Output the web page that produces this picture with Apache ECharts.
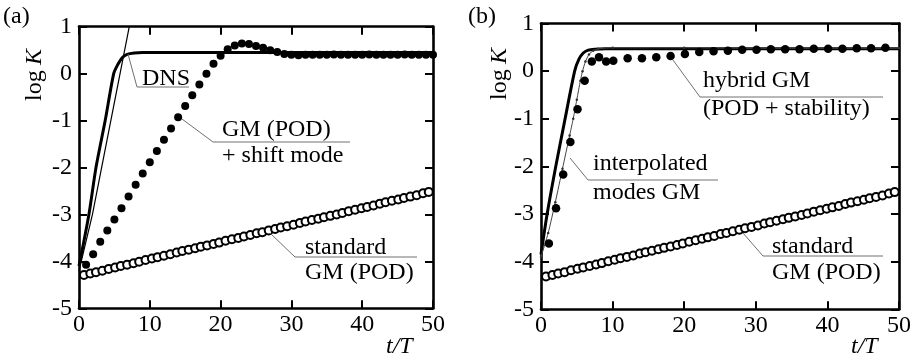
<!DOCTYPE html>
<html><head><meta charset="utf-8">
<script src="https://cdn.jsdelivr.net/npm/echarts/dist/echarts.min.js"></script>
<style>html,body{margin:0;padding:0;background:#fff}#c{width:914px;height:354px}</style>
</head><body><div id="c"></div>
<script>
// ---------- data ----------
const xTicks = [0, 10, 20, 30, 40, 50];
const yTicks = [-5, -4, -3, -2, -1, 0, 1];

// panel (a)
const tDnsA  = [0, 1.4, 2.4, 3.7, 4.9, 5.5, 6.1, 6.8, 7.8, 9, 20, 30, 40, 50];
const kDnsA  = [-4.1, -3.0, -2.0, -1.0, 0.0, 0.2, 0.34, 0.41, 0.44, 0.45, 0.45, 0.45, 0.45, 0.45];
const tLinA  = [0, 1.9, 7.1, 7.3];
const kLinA  = [-4.2, -3.0, 1.0, 1.15];
const tShift = [1,2,3,4,5,6,7,8,9,10,11,12,13,14,15,16,17,18,19,20,21,22,23,24,25,26,27,28,29,30,31,32,33,34,35,36,37,38,39,40,41,42,43,44,45,46,47,48,49,50];
const kShift = [-4.07,-3.85,-3.58,-3.34,-3.11,-2.87,-2.62,-2.37,-2.13,-1.89,-1.65,-1.41,-1.17,-0.93,-0.69,-0.46,-0.23,0.0,0.21,0.38,0.52,0.60,0.64,0.63,0.59,0.55,0.50,0.46,0.42,0.40,0.39,0.40,0.40,0.40,0.40,0.41,0.40,0.40,0.40,0.40,0.41,0.40,0.40,0.40,0.40,0.41,0.40,0.40,0.40,0.40];
const tStd   = [0.7,1.6,2.4,3.3,4.2,5.1,5.9,6.8,7.7,8.5,9.4,10.3,11.1,12.0,12.9,13.8,14.6,15.5,16.4,17.2,18.1,19.0,19.8,20.7,21.6,22.5,23.3,24.2,25.1,25.9,26.8,27.7,28.5,29.4,30.3,31.2,32.0,32.9,33.8,34.6,35.5,36.4,37.2,38.1,39.0,39.9,40.7,41.6,42.5,43.3,44.2,45.1,45.9,46.8,47.7,48.6,49.4];
const kStdA  = [-4.29,-4.26,-4.23,-4.20,-4.16,-4.13,-4.10,-4.07,-4.04,-4.01,-3.97,-3.94,-3.91,-3.88,-3.85,-3.81,-3.78,-3.75,-3.72,-3.69,-3.66,-3.63,-3.60,-3.56,-3.53,-3.50,-3.47,-3.44,-3.40,-3.38,-3.34,-3.31,-3.28,-3.25,-3.22,-3.18,-3.15,-3.12,-3.09,-3.06,-3.03,-3.00,-2.97,-2.93,-2.90,-2.87,-2.84,-2.81,-2.77,-2.74,-2.71,-2.68,-2.65,-2.62,-2.59,-2.55,-2.52];

// panel (b)
const tDnsB  = [0, 0.8, 2.0, 3.3, 4.7, 5.3, 5.9, 6.6, 7.5, 9, 20, 30, 40, 50];
const kDnsB  = [-3.85, -3.05, -2.05, -1.05, 0.0, 0.25, 0.38, 0.44, 0.46, 0.47, 0.47, 0.47, 0.47, 0.47];
const tInterp = [0, 1.0, 2.0, 3.0, 4.0, 4.5, 5.0, 5.5, 5.8, 6.2, 6.7, 7.3, 8, 10, 20, 30, 40, 50];
const kInterp = [-3.9, -3.4, -2.75, -2.05, -1.35, -1.0, -0.6, -0.2, 0.0, 0.2, 0.35, 0.43, 0.47, 0.49, 0.49, 0.48, 0.48, 0.48];
const tHybrid = [1.1,2.1,3.1,4.1,5.1,6.1,7.1,8.1,9.1,10.1,12.1,14.1,16.1,18.1,20.1,22.1,24.1,26.1,28.1,30.1,32.1,34.1,36.1,38.1,40.1,42.1,44.1,46.1,48.1];
const kHybrid = [-3.62,-2.88,-2.17,-1.49,-0.80,-0.20,0.20,0.29,0.20,0.22,0.27,0.27,0.29,0.32,0.36,0.40,0.42,0.43,0.45,0.45,0.46,0.46,0.46,0.47,0.47,0.47,0.48,0.48,0.49];
const kStdB  = [-4.31,-4.28,-4.25,-4.22,-4.18,-4.15,-4.12,-4.09,-4.06,-4.03,-3.99,-3.96,-3.93,-3.90,-3.87,-3.83,-3.80,-3.77,-3.74,-3.71,-3.68,-3.65,-3.62,-3.58,-3.55,-3.52,-3.49,-3.46,-3.42,-3.40,-3.36,-3.33,-3.30,-3.27,-3.24,-3.20,-3.17,-3.14,-3.11,-3.08,-3.05,-3.02,-2.99,-2.95,-2.92,-2.89,-2.86,-2.83,-2.79,-2.76,-2.73,-2.70,-2.67,-2.64,-2.61,-2.57,-2.54];

// ---------- chart ----------
const zip = (a, b) => a.map((v, i) => [v, b[i]]);
const FONT = '"Liberation Serif","Times New Roman",serif';
const BLACK = '#000';

function xAx(gi, pos) {
  return {
    gridIndex: gi, type: 'value', position: pos,
    min: xTicks[0], max: xTicks[xTicks.length - 1], interval: xTicks[1] - xTicks[0],
    axisLine: { show: true, onZero: false, lineStyle: { color: BLACK, width: 2.6 } },
    axisTick: { show: true, inside: true, length: 8, lineStyle: { color: BLACK, width: 2 } },
    axisLabel: { show: pos === 'bottom', color: BLACK, fontFamily: FONT, fontSize: 24, margin: 4 },
    splitLine: { show: false }
  };
}
function yAx(gi, pos) {
  return {
    gridIndex: gi, type: 'value', position: pos,
    min: yTicks[0], max: yTicks[yTicks.length - 1], interval: yTicks[1] - yTicks[0],
    axisLine: { show: true, onZero: false, lineStyle: { color: BLACK, width: 2.6 } },
    axisTick: { show: true, inside: true, length: 8, lineStyle: { color: BLACK, width: 2 } },
    axisLabel: { show: pos === 'left', color: BLACK, fontFamily: FONT, fontSize: 24, margin: 7 },
    splitLine: { show: false }
  };
}

const openCircle = { color: '#fff', borderColor: BLACK, borderWidth: 2, opacity: 1 };
const filled = { color: BLACK, opacity: 1 };

function txt(text, x, y, opts) {
  opts = opts || {};
  return {
    type: 'text', z: 100, silent: true,
    style: {
      text: text, x: x, y: y, fill: BLACK,
      font: (opts.italic ? 'italic ' : '') + (opts.size || 24) + 'px ' + FONT,
      textAlign: opts.align || 'left', textVerticalAlign: opts.valign || 'middle'
    }
  };
}
function ln(x1, y1, x2, y2, color) {
  return { type: 'line', z: 100, silent: true, shape: { x1, y1, x2, y2 },
           style: { stroke: color || '#707070', lineWidth: 1 } };
}
function logK(x, yBottom) {
  return {
    type: 'group', x: x, y: yBottom, rotation: Math.PI / 2, z: 100,
    children: [
      { type: 'text', style: { text: 'log', x: 0, y: 0, fill: BLACK, font: '24px ' + FONT, textAlign: 'left', textVerticalAlign: 'middle' } },
      { type: 'text', style: { text: 'K', x: 36, y: 0, fill: BLACK, font: 'italic 24px ' + FONT, textAlign: 'left', textVerticalAlign: 'middle' } }
    ]
  };
}

const option = {
  animation: false,
  backgroundColor: '#fff',
  grid: [
    { left: 79, top: 26.7, width: 354, height: 281.6 },
    { left: 541, top: 23.5, width: 360, height: 285.8 }
  ],
  xAxis: [xAx(0, 'bottom'), xAx(0, 'top'), xAx(1, 'bottom'), xAx(1, 'top')],
  yAxis: [yAx(0, 'left'), yAx(0, 'right'), yAx(1, 'left'), yAx(1, 'right')],
  series: [
    // (a)
    { type: 'line', xAxisIndex: 0, yAxisIndex: 0, data: zip(tDnsA, kDnsA), showSymbol: false, smooth: 0.25,
      lineStyle: { color: BLACK, width: 3 }, z: 3 },
    { type: 'line', xAxisIndex: 0, yAxisIndex: 0, data: zip(tLinA, kLinA), showSymbol: false,
      lineStyle: { color: BLACK, width: 1.2 }, z: 3, clip: true },
    { type: 'scatter', xAxisIndex: 0, yAxisIndex: 0, data: zip(tShift, kShift), symbol: 'circle', symbolSize: 8,
      itemStyle: filled, z: 4 },
    { type: 'scatter', xAxisIndex: 0, yAxisIndex: 0, data: zip(tStd, kStdA), symbol: 'circle', symbolSize: 8,
      itemStyle: openCircle, z: 5 },
    // (b)
    { type: 'line', xAxisIndex: 2, yAxisIndex: 2, data: zip(tDnsB, kDnsB), showSymbol: false, smooth: 0.25,
      lineStyle: { color: BLACK, width: 3 }, z: 3 },
    { type: 'line', xAxisIndex: 2, yAxisIndex: 2, data: zip(tInterp, kInterp), showSymbol: true, symbol: 'circle', symbolSize: 2.5,
      smooth: 0.2, itemStyle: { color: '#333', opacity: 1 }, lineStyle: { color: '#444', width: 1 }, z: 3 },
    { type: 'scatter', xAxisIndex: 2, yAxisIndex: 2, data: zip(tHybrid, kHybrid), symbol: 'circle', symbolSize: 8.5,
      itemStyle: filled, z: 4 },
    { type: 'scatter', xAxisIndex: 2, yAxisIndex: 2, data: zip(tStd, kStdB), symbol: 'circle', symbolSize: 8,
      itemStyle: openCircle, z: 5 }
  ],
  graphic: [
    txt('(a)', 3, 17),
    txt('(b)', 468, 17),
    logK(35, 101),
    logK(500, 100),
    txt('t/T', 386, 335, { italic: true, valign: 'top' }),
    txt('t/T', 851, 335, { italic: true, valign: 'top' }),
    // (a) annotations
    ln(128, 54, 137, 87), ln(137, 87, 189, 87),
    txt('DNS', 142, 79),
    ln(182, 119, 213, 142), ln(213, 142, 350, 142),
    txt('GM (POD)', 222, 130),
    txt('+ shift mode', 222, 156),
    ln(270, 233, 295, 257), ln(295, 257, 417, 257),
    txt('standard', 305, 248),
    txt('GM (POD)', 305, 273),
    // (b) annotations
    ln(673, 60, 700, 97), ln(700, 97, 883, 97),
    txt('hybrid GM', 703, 81),
    txt('(POD + stability)', 703, 109),
    ln(570, 158, 588, 180), ln(588, 180, 718, 180),
    txt('interpolated', 593, 164),
    txt('modes GM', 593, 193),
    ln(743, 233, 763, 256), ln(763, 256, 883, 256),
    txt('standard', 772, 247),
    txt('GM (POD)', 772, 273)
  ]
};

const chart = echarts.init(document.getElementById('c'), null, { renderer: 'canvas' });
chart.setOption(option);
</script>
</body></html>
